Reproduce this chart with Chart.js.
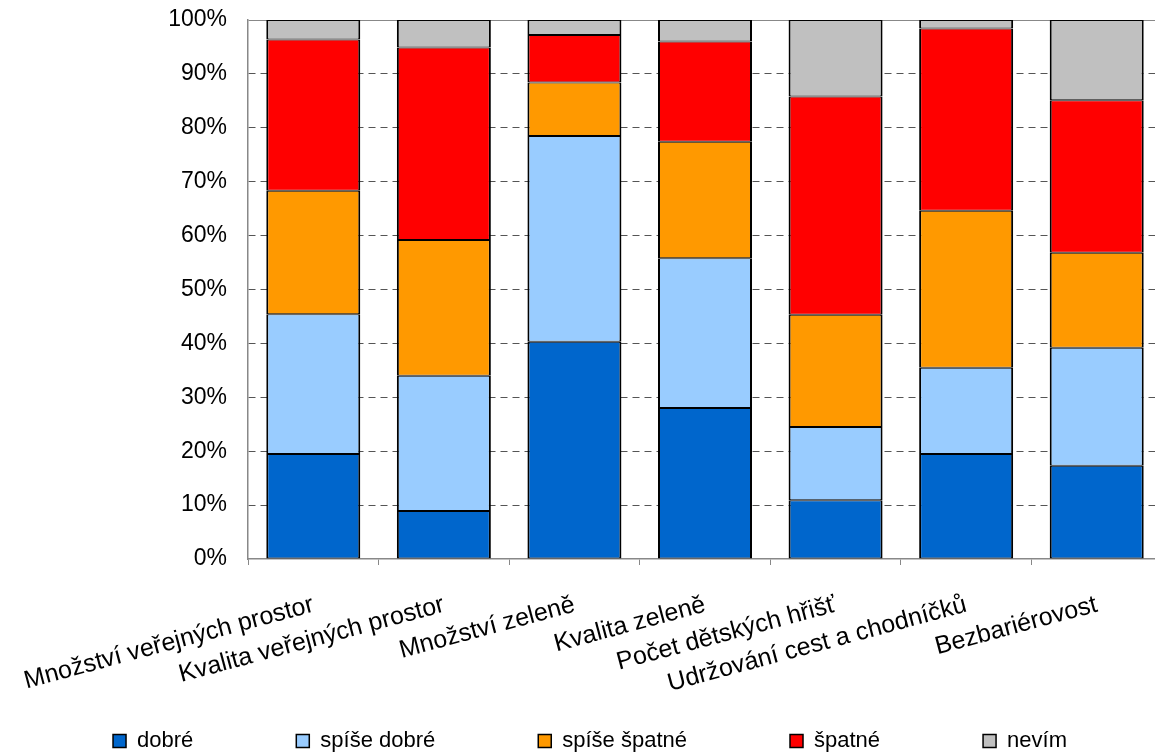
<!DOCTYPE html>
<html><head><meta charset="utf-8">
<script src="https://cdn.jsdelivr.net/npm/chart.js@4"></script>
<style>html,body{margin:0;padding:0;background:#fff;overflow:hidden}#wrap{width:1155px;height:754px;overflow:hidden}</style>
</head><body>
<div id="wrap"><canvas id="c" width="1162" height="754"></canvas></div>
<script>
const categories = ['Množství veřejných prostor', 'Kvalita veřejných prostor', 'Množství zeleně', 'Kvalita zeleně', 'Počet dětských hřišť', 'Udržování cest a chodníčků', 'Bezbariérovost'];
const seriesNames = ['dobré', 'spíše dobré', 'spíše špatné', 'špatné', 'nevím'];
const dobre = [19.5, 8.9, 40.3, 28.0, 10.9, 19.5, 17.3];
const spiseDobre = [25.9, 25.1, 38.2, 27.8, 13.6, 16.0, 21.9];
const spiseSpatne = [22.9, 25.2, 9.9, 21.6, 20.8, 29.1, 17.6];
const spatne = [28.1, 35.7, 8.8, 18.6, 40.5, 33.8, 28.3];
const nevim = [3.6, 5.1, 2.8, 4.0, 14.2, 1.6, 14.9];
const yTicks = [0, 10, 20, 30, 40, 50, 60, 70, 80, 90, 100];
const colors = ['#0066CC', '#99CCFF', '#FF9900', '#FF0000', '#C0C0C0'];

const seriesValues = [dobre, spiseDobre, spiseSpatne, spatne, nevim];
const FONT = "'Liberation Sans', Arial, sans-serif";

// let the rotated category labels spill below the (deliberately short) x-axis box,
// and nudge the legend row to sit where the original one does
const layoutTweaks = {
  id: 'layoutTweaks',
  afterLayout(chart) {
    chart.scales.x.bottom = chart.height;
    if (chart.legend) { chart.legend.left += 9; chart.legend.right += 9; }
  }
};

new Chart(document.getElementById('c'), {
  type: 'bar',
  plugins: [layoutTweaks],
  data: {
    labels: categories,
    datasets: seriesNames.map((n, i) => ({
      label: n,
      data: seriesValues[i],
      backgroundColor: colors[i],
      borderColor: '#000',
      borderWidth: { left: 2, right: 2, top: 1, bottom: 1 },
      borderSkipped: false,
      barPercentage: 0.72,
      categoryPercentage: 1.0
    }))
  },
  options: {
    responsive: false,
    animation: false,
    devicePixelRatio: 1,
    layout: { padding: { left: 0, right: 0, top: 20, bottom: -8 } },
    plugins: {
      tooltip: { enabled: false },
      legend: {
        position: 'bottom',
        labels: {
          boxWidth: 13, boxHeight: 13, padding: 103,
          color: '#000',
          font: { family: FONT, size: 22 }
        }
      }
    },
    scales: {
      x: {
        stacked: true,
        afterFit: s => { s.height = 68; s.paddingLeft = 0; s.paddingRight = 0; s.paddingTop = 0; },
        grid: { display: true, drawOnChartArea: false, drawTicks: true, tickLength: 6, color: '#888', lineWidth: 1 },
        border: { display: true, color: '#888', width: 1.5 },
        ticks: {
          autoSkip: false, minRotation: 15, maxRotation: 15, padding: 25,
          color: '#000', font: { family: FONT, size: 25 }
        }
      },
      y: {
        stacked: true,
        min: 0, max: 100,
        afterFit: s => { s.width = 248; s.paddingTop = 0; s.paddingBottom = 0; },
        afterBuildTicks: s => { s.ticks = yTicks.map(v => ({ value: v })); },
        grid: {
          drawTicks: false,
          lineWidth: 1,
          color: c => (c.tick && c.tick.value === 0) ? 'rgba(0,0,0,0)' : (c.tick && c.tick.value === 100 ? '#888' : '#555')
        },
        border: {
          display: true, color: '#888', width: 1.5,
          dash: c => (c.tick && c.tick.value === 100) ? [] : [7, 5]
        },
        ticks: {
          padding: 21, color: '#000',
          font: { family: FONT, size: 23 },
          callback: v => v + '%'
        }
      }
    }
  }
});
</script>
</body></html>
